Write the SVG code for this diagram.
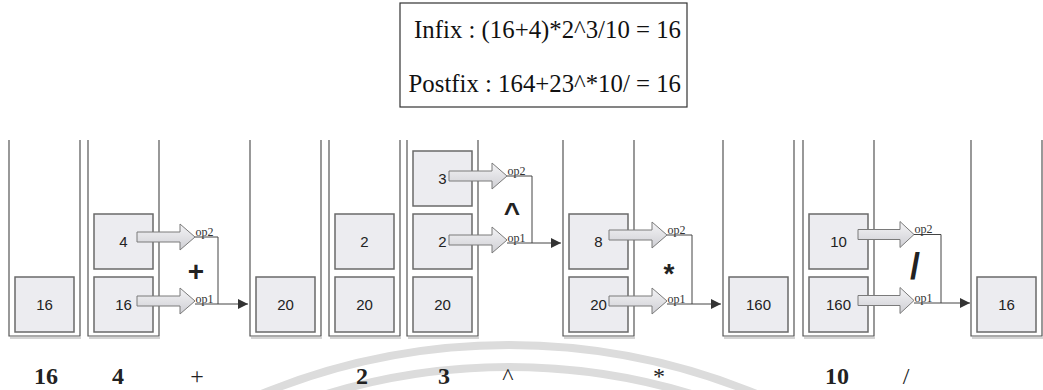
<svg xmlns="http://www.w3.org/2000/svg" width="1043" height="390" viewBox="0 0 1043 390">
  <defs>
    <linearGradient id="shaft" x1="0" y1="0" x2="0" y2="1">
      <stop offset="0" stop-color="#f4f4f6"/>
      <stop offset="1" stop-color="#cfcfd4"/>
    </linearGradient>
    <marker id="tri" viewBox="0 0 10 10" refX="10" refY="5" markerWidth="10" markerHeight="10" markerUnits="userSpaceOnUse" orient="auto">
      <path d="M0,0 L10,5 L0,10 Z" fill="#333"/>
    </marker>
  </defs>
  <style>
    .frame { fill: none; stroke: #555; stroke-width: 1.2; }
    .shadow { fill: none; stroke: #aaa; stroke-width: 1; }
    .cell { fill: #ececf0; stroke: #6a6a6a; stroke-width: 1.5; }
    .num { font-family: "Liberation Sans", Arial, sans-serif; font-size: 15px; fill: #222; text-anchor: middle; }
    .push { fill: url(#shaft); stroke: #7a7a7a; stroke-width: 1; }
    .wire { fill: none; stroke: #444; stroke-width: 1; }
    .op { font-family: "Liberation Serif", "Times New Roman", serif; font-size: 12px; fill: #333; }
    .sym { font-family: "Liberation Sans", Arial, sans-serif; font-weight: bold; font-size: 28px; fill: #222; text-anchor: middle; }
    .title { font-family: "Liberation Serif", "Times New Roman", serif; font-size: 24.8px; fill: #111; text-anchor: end; }
    .tok { font-family: "Liberation Serif", "Times New Roman", serif; font-size: 24px; fill: #222; text-anchor: middle; }
    .tokb { font-weight: bold; }
    .mark { fill: none; stroke: #dcdcdc; stroke-width: 8; }
  </style>

  <rect width="1043" height="390" fill="#ffffff"/>

  <!-- faint background arcs -->
  <g id="backdrop">
    <circle class="mark" cx="509" cy="995" r="650"/>
    <circle class="mark" cx="509" cy="995" r="628"/>
  </g>

  <!-- expression box -->
  <g id="expr">
    <rect x="400" y="3" width="287" height="104" fill="#fff" stroke="#333" stroke-width="1.2"/>
    <text class="title" x="681" y="38">Infix : (16+4)*2^3/10 = 16</text>
    <text class="title" x="681" y="92">Postfix : 164+23^*10/ = 16</text>
  </g>

  <!-- stacks: cells at y 277 (bottom), 214, 151 -->
  <g id="stack1">
    <path class="frame" d="M9,140 V336 H80 V140"/>
    <path class="shadow" d="M10,338 H81"/>
    <rect class="cell" x="15" y="277" width="59" height="55"/>
    <text class="num" x="44.5" y="310">16</text>
  </g>
  <g id="stack2">
    <path class="frame" d="M88,140 V336 H159 V140"/>
    <path class="shadow" d="M89,338 H160"/>
    <rect class="cell" x="94" y="277" width="59" height="55"/>
    <text class="num" x="123.5" y="310">16</text>
    <rect class="cell" x="94" y="214" width="59" height="55"/>
    <text class="num" x="123.5" y="247">4</text>
  </g>
  <g id="stack3">
    <path class="frame" d="M250,140 V336 H321 V140"/>
    <path class="shadow" d="M251,338 H322"/>
    <rect class="cell" x="256" y="277" width="59" height="55"/>
    <text class="num" x="285.5" y="310">20</text>
  </g>
  <g id="stack4">
    <path class="frame" d="M329,140 V336 H400 V140"/>
    <path class="shadow" d="M330,338 H401"/>
    <rect class="cell" x="335" y="277" width="59" height="55"/>
    <text class="num" x="364.5" y="310">20</text>
    <rect class="cell" x="335" y="214" width="59" height="55"/>
    <text class="num" x="364.5" y="247">2</text>
  </g>
  <g id="stack5">
    <path class="frame" d="M407,140 V336 H478 V140"/>
    <path class="shadow" d="M408,338 H479"/>
    <rect class="cell" x="413" y="277" width="59" height="55"/>
    <text class="num" x="442.5" y="310">20</text>
    <rect class="cell" x="413" y="214" width="59" height="55"/>
    <text class="num" x="442.5" y="247">2</text>
    <rect class="cell" x="413" y="151" width="59" height="55"/>
    <text class="num" x="442.5" y="184">3</text>
  </g>
  <g id="stack6">
    <path class="frame" d="M563,140 V336 H634 V140"/>
    <path class="shadow" d="M564,338 H635"/>
    <rect class="cell" x="569" y="277" width="59" height="55"/>
    <text class="num" x="598.5" y="310">20</text>
    <rect class="cell" x="569" y="214" width="59" height="55"/>
    <text class="num" x="598.5" y="247">8</text>
  </g>
  <g id="stack7">
    <path class="frame" d="M723,140 V336 H794 V140"/>
    <path class="shadow" d="M724,338 H795"/>
    <rect class="cell" x="729" y="277" width="59" height="55"/>
    <text class="num" x="758.5" y="310">160</text>
  </g>
  <g id="stack8">
    <path class="frame" d="M803,140 V336 H874 V140"/>
    <path class="shadow" d="M804,338 H875"/>
    <rect class="cell" x="809" y="277" width="59" height="55"/>
    <text class="num" x="838.5" y="310">160</text>
    <rect class="cell" x="809" y="214" width="59" height="55"/>
    <text class="num" x="838.5" y="247">10</text>
  </g>
  <g id="stack9">
    <path class="frame" d="M971,140 V336 H1042 V140"/>
    <path class="shadow" d="M972,338 H1043"/>
    <rect class="cell" x="977" y="277" width="59" height="55"/>
    <text class="num" x="1006.5" y="310">16</text>
  </g>

  <!-- operand pops, operator wiring and result pushes -->
  <g id="connectors">
    <!-- + -->
    <path class="push" d="M137,232 H180 V224 L195,237 L180,250 V242 H137 Z"/>
    <path class="push" d="M137,296 H180 V288 L195,301 L180,314 V306 H137 Z"/>
    <path class="wire" d="M195,237 H218 V304"/>
    <path class="wire" d="M195,304 H248" marker-end="url(#tri)"/>
    <text class="op" x="195.5" y="235.5">op2</text>
    <text class="op" x="195.5" y="302.5">op1</text>

    <!-- ^ -->
    <path class="push" d="M449,171 H492 V163 L507,176 L492,189 V181 H449 Z"/>
    <path class="push" d="M449,235 H492 V227 L507,240 L492,253 V245 H449 Z"/>
    <path class="wire" d="M507,176 H532 V243"/>
    <path class="wire" d="M507,243 H561" marker-end="url(#tri)"/>
    <text class="op" x="507.5" y="174.5">op2</text>
    <text class="op" x="507.5" y="241.5">op1</text>

    <!-- * -->
    <path class="push" d="M609,230 H652 V222 L667,235 L652,248 V240 H609 Z"/>
    <path class="push" d="M609,296 H652 V288 L667,301 L652,314 V306 H609 Z"/>
    <path class="wire" d="M667,235 H692 V304"/>
    <path class="wire" d="M667,304 H721" marker-end="url(#tri)"/>
    <text class="op" x="667.5" y="233.5">op2</text>
    <text class="op" x="667.5" y="302.5">op1</text>

    <!-- / -->
    <path class="push" d="M858,229.5 H900 V221.5 L914,234.5 L900,247.5 V239.5 H858 Z"/>
    <path class="push" d="M858,295.5 H900 V287.5 L914,300.5 L900,313.5 V305.5 H858 Z"/>
    <path class="wire" d="M914,234.5 H941 V303"/>
    <path class="wire" d="M914,303 H970" marker-end="url(#tri)"/>
    <text class="op" x="914.5" y="233">op2</text>
    <text class="op" x="914.5" y="301.5">op1</text>
  </g>

  <!-- operator symbols between stacks -->
  <g id="operators">
    <text class="sym" x="196" y="281">+</text>
    <text class="sym" x="512" y="222">^</text>
    <text class="sym" x="669" y="283">*</text>
    <text class="sym" x="915" y="279" style="font-size:36px">/</text>
  </g>

  <!-- postfix tokens -->
  <g id="tokens">
    <text class="tok tokb" x="46" y="384">16</text>
    <text class="tok tokb" x="118" y="384">4</text>
    <text class="tok" x="197" y="384">+</text>
    <text class="tok tokb" x="362" y="384">2</text>
    <text class="tok tokb" x="444" y="384">3</text>
    <text class="tok" x="508" y="384">^</text>
    <text class="tok" x="659" y="384">*</text>
    <text class="tok tokb" x="837" y="384">10</text>
    <text class="tok" x="906" y="384">/</text>
  </g>
</svg>
